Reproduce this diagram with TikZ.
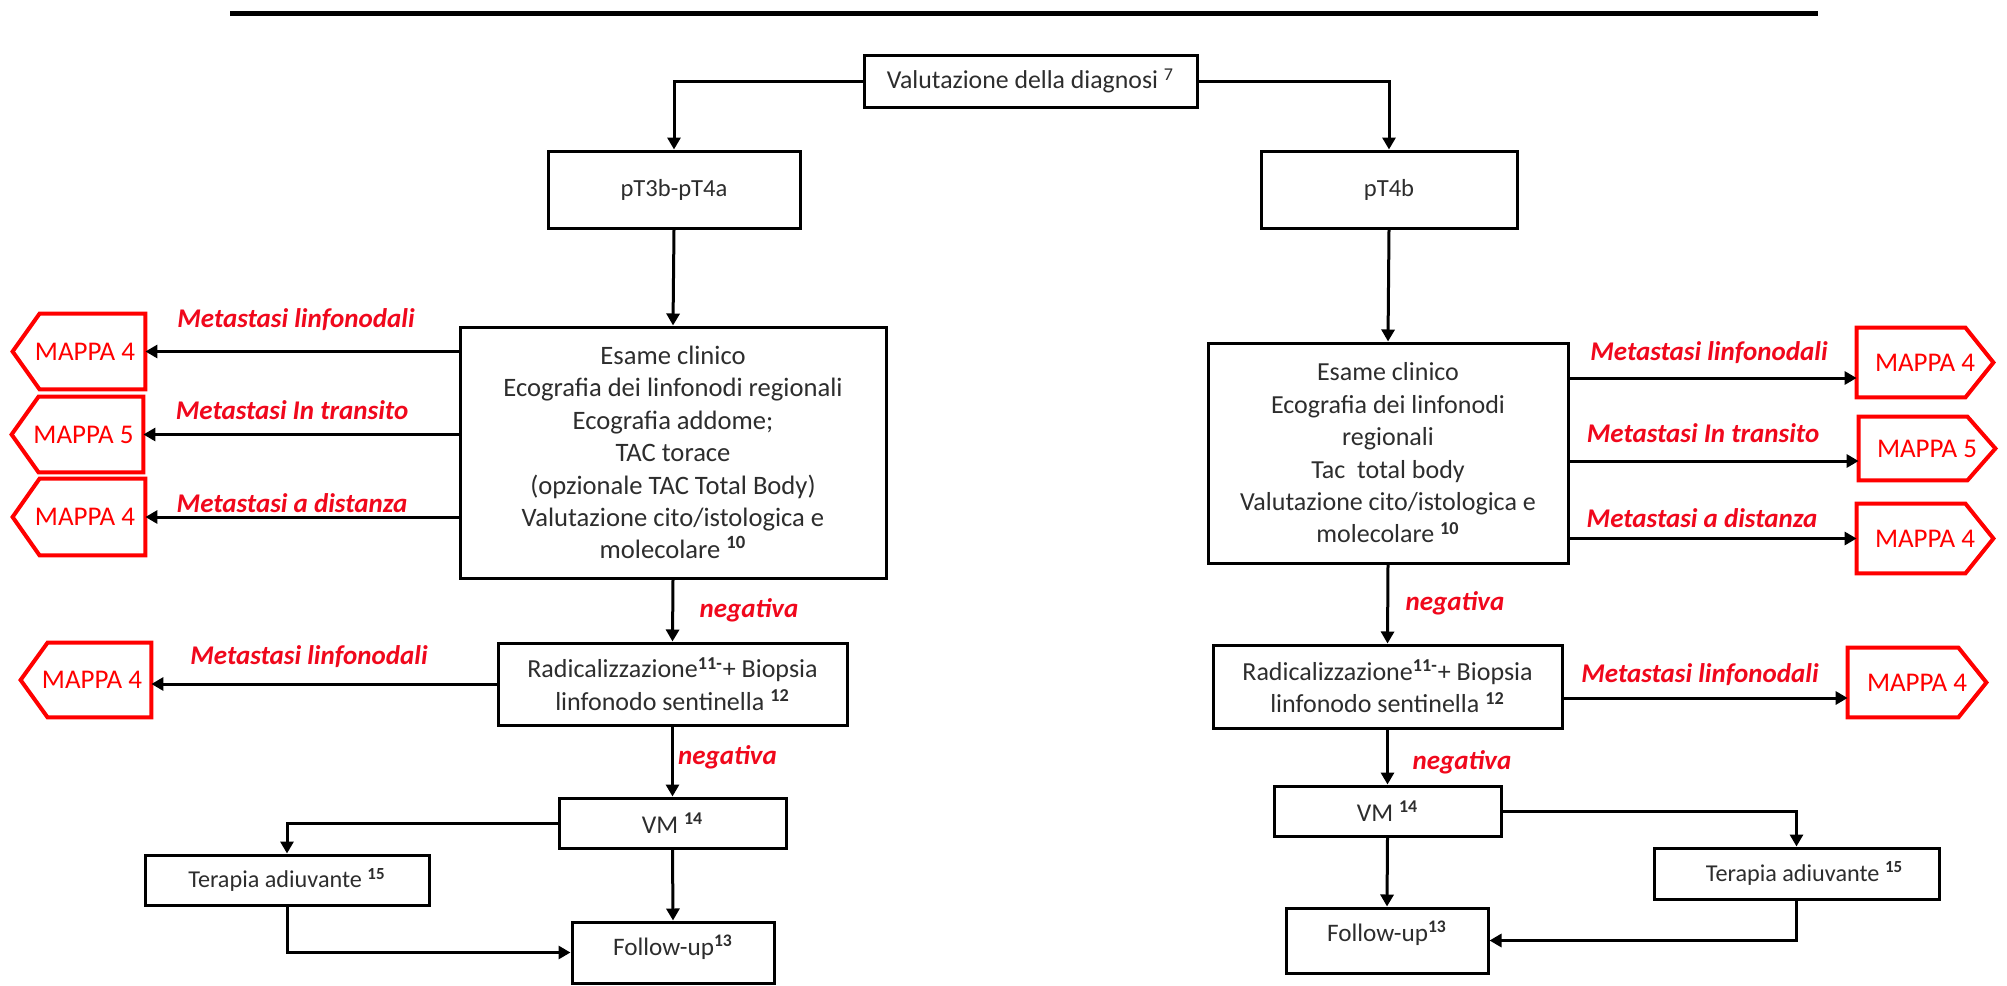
\documentclass[tikz,border=0pt]{standalone}
\usepackage{fontspec}
\setmainfont{Carlito}
\usetikzlibrary{arrows.meta,calc}
\definecolor{mapred}{RGB}{255,0,0}
\definecolor{labred}{RGB}{240,8,28}
\definecolor{ink}{RGB}{45,45,45}
\newcommand{\supb}[1]{\textsuperscript{\bfseries #1}}
\newcommand{\fs}[1]{\fontsize{#1}{16.2}\selectfont}
% outline of a map tag: flat side right, point to the left
\newcommand{\tagleft}[1]{\draw[tagline]
  ([xshift=13.5pt]#1.north west) -- (#1.north east) -- (#1.south east)
  -- ([xshift=13.5pt]#1.south west) -- (#1.west) -- cycle;}
% outline of a map tag: flat side left, point to the right
\newcommand{\tagright}[1]{\draw[tagline]
  ([xshift=-14pt]#1.north east) -- (#1.north west) -- (#1.south west)
  -- ([xshift=-14pt]#1.south east) -- (#1.east) -- cycle;}
\begin{document}
\begin{tikzpicture}[x=0.5pt,y=-0.5pt,
  box/.style={draw=black, line width=1.5pt, fill=white, text=ink, align=center,
    inner sep=0pt, font=\fs{13}},
  txt/.style={text=ink, inner sep=0pt, font=\fs{12.6}},
  conn/.style={line width=1.5pt, draw=black},
  arr/.style={conn, -{Triangle[length=6pt,width=6.5pt]}},
  mappa/.style={rectangle, inner sep=0pt, text=mapred,
    font=\fontsize{13.5}{15}\selectfont},
  tagline/.style={draw=mapred, line width=2pt, line join=miter},
  lab/.style={text=labred, inner sep=0pt, font=\bfseries\itshape\fontsize{13.5}{15}\selectfont},
]
\useasboundingbox (0,0) rectangle (2007,985);

% heading rule
\draw[line width=2.5pt] (230,13) -- (1818,13);

% main boxes
\node[box, font=\fs{12.9}, minimum width=166.5pt, minimum height=26pt] (V) at (1030.5,81) {Valutazione della diagnosi \textsuperscript{7}};
\node[box, font=\fs{12.3}, minimum width=126pt, minimum height=38.5pt] (P1) at (674,189.5) {pT3b-pT4a};
\node[box, font=\fs{12.3}, minimum width=128pt, minimum height=38.5pt] (P2) at (1389,189.5) {pT4b};

\node[box, font=\fs{13.3}, minimum width=213pt, minimum height=125.5pt] (L1) at (673,452.5)
  {Esame clinico\\Ecografia dei linfonodi regionali\\Ecografia addome;\\TAC torace\\(opzionale TAC Total Body)\\Valutazione cito/istologica e\\molecolare \supb{10}};
\node[box, minimum width=180pt, minimum height=110pt] (R1) at (1388,453)
  {Esame clinico\\Ecografia dei linfonodi\\regionali\\Tac\ \ total body\\Valutazione cito/istologica e\\molecolare \supb{10}};

\node[box, minimum width=174.5pt, minimum height=41pt] (L2) at (672.5,684)
  {Radicalizzazione\supb{11-}+ Biopsia\\linfonodo sentinella \supb{12}};
\node[box, minimum width=174.5pt, minimum height=41.5pt] (R2) at (1387.5,686.5)
  {Radicalizzazione\supb{11-}+ Biopsia\\linfonodo sentinella \supb{12}};

\node[box, font=\fs{12.8}, minimum width=113.5pt, minimum height=25pt] (L3) at (672.5,823) {VM \supb{14}};
\node[box, font=\fs{12.8}, minimum width=113.5pt, minimum height=25pt] (R3) at (1387.5,811) {VM \supb{14}};

\node[box, font=\fs{12.1}, minimum width=142pt, minimum height=25pt] (L4) at (287,880) {Terapia adiuvante \supb{15}};
\node[box, font=\fs{12.1}, minimum width=142.5pt, minimum height=25.5pt] (R4) at (1796.5,873.5) {\hspace{8pt}Terapia adiuvante \supb{15}};

\node[box, minimum width=101pt, minimum height=30.5pt] (L5) at (673,952.5) {};
\node[txt] (L5t) at (673,947) {Follow-up\supb{13}};
\node[box, minimum width=101pt, minimum height=32.5pt] (R5) at (1387,940.5) {};
\node[txt] (R5t) at (1387,933) {Follow-up\supb{13}};

% map references
\node[mappa, minimum width=66pt, minimum height=37.5pt] (LM1) at (79,351.5) {\hspace{6pt}MAPPA 4};
\node[mappa, minimum width=65.5pt, minimum height=37.5pt] (LM2) at (77.5,434.5) {\hspace{6pt}MAPPA 5};
\node[mappa, minimum width=66pt, minimum height=38pt] (LM3) at (79,517) {\hspace{6pt}MAPPA 4};
\node[mappa, minimum width=65pt, minimum height=37pt] (LM4) at (86,680) {\hspace{6pt}MAPPA 4};
\node[mappa, minimum width=68pt, minimum height=34.5pt] (RM1) at (1925,362.5) {MAPPA 4\hspace{6pt}};
\node[mappa, minimum width=68pt, minimum height=31.5pt] (RM2) at (1927,448.5) {MAPPA 5\hspace{4pt}};
\node[mappa, minimum width=68pt, minimum height=34.5pt] (RM3) at (1925,538.5) {MAPPA 4\hspace{6pt}};
\node[mappa, minimum width=69pt, minimum height=34.5pt] (RM4) at (1917,682.5) {MAPPA 4\hspace{6pt}};
\tagleft{LM1}\tagleft{LM2}\tagleft{LM3}\tagleft{LM4}
\tagright{RM1}\tagright{RM2}\tagright{RM3}\tagright{RM4}

% branch labels
\node[lab] (t1) at (296,320) {Metastasi linfonodali};
\node[lab] (t2) at (292,410) {Metastasi In transito};
\node[lab] (t3) at (292,503) {Metastasi a distanza};
\node[lab] (t4) at (309,657) {Metastasi linfonodali};
\node[lab] (t5) at (1709,353) {Metastasi linfonodali};
\node[lab] (t6) at (1703,433) {Metastasi In transito};
\node[lab] (t7) at (1702,518) {Metastasi a distanza};
\node[lab] (t8) at (1700,675) {Metastasi linfonodali};
\node[lab] (n1) at (749,610) {negativa};
\node[lab] (n2) at (727.5,757) {negativa};
\node[lab] (n3) at (1455,603) {negativa};
\node[lab] (n4) at (1462,762) {negativa};

% connectors, left branch
\draw[arr] (V.west) -| (P1.north);
\draw[arr] (P1.south) -- (L1.north);
\draw[arr] (L1.west |- LM1.east) -- (LM1.east);
\draw[arr] (L1.west |- LM2.east) -- (LM2.east);
\draw[arr] (L1.west |- LM3.east) -- (LM3.east);
\draw[arr] (L1.south) -- (L2.north);
\draw[arr] (L2.west) -- (L2.west -| LM4.east);
\draw[arr] (L2.south) -- (L3.north);
\draw[arr] (L3.west) -| (L4.north);
\draw[arr] (L3.south) -- (L5.north);
\draw[arr] (L4.south) |- (L5.west);

% connectors, right branch
\coordinate (a1) at ($(RM1.west)+(0,15.5)$);
\coordinate (a2) at ($(RM2.west)+(0,12.5)$);
\coordinate (a3) at (RM3.west);
\coordinate (a4) at ($(RM4.west)+(0,15.5)$);
\draw[arr] (V.east) -| (P2.north);
\draw[arr] (P2.south) -- (R1.north);
\draw[arr] (R1.east |- a1) -- (a1);
\draw[arr] (R1.east |- a2) -- (a2);
\draw[arr] (R1.east |- a3) -- (a3);
\draw[arr] (R1.south) -- (R2.north);
\draw[arr] (R2.east |- a4) -- (a4);
\draw[arr] (R2.south) -- (R3.north);
\draw[arr] (R3.east) -| (R4.north);
\draw[arr] (R3.south) -- (R5.north);
\draw[arr] (R4.south) |- (R5.east);
\end{tikzpicture}
\end{document}
